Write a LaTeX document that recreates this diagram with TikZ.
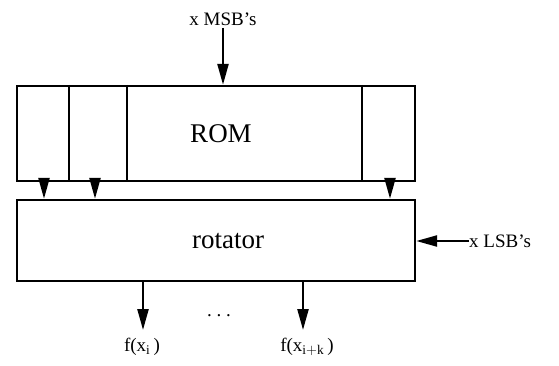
\documentclass[tikz,border=0pt]{standalone}
\usepackage{fontspec}
\setmainfont{Liberation Serif}
\usetikzlibrary{arrows.meta}

\begin{document}
\begin{tikzpicture}[x=1pt, y=1pt, >={Triangle[length=21pt, width=11pt]},
  box/.style={draw, line width=2.4pt, inner sep=0pt},
  conn/.style={->, line width=2.4pt},
  lbl/.style={font=\fontsize{19}{21}\selectfont, inner sep=0pt},
  big/.style={font=\fontsize{27}{30}\selectfont, inner sep=0pt}]
  \useasboundingbox (0,0) rectangle (559,365);

  % ROM block with its columns
  \node[box, minimum width=398pt, minimum height=95pt] (rom) at (216,231.5) {};
  \node[big] (romtext) at (221,231) {ROM};
  \foreach \xd in {69, 127, 362} {
    \draw[line width=2.4pt] (\xd,0 |- rom.north) -- (\xd,0 |- rom.south);
  }

  % rotator block
  \node[box, minimum width=398pt, minimum height=81pt] (rot) at (216,124.5) {};
  \node[big] (rottext) at (228,124) {rotator};

  % ROM outputs into rotator
  \foreach \xa [count=\i] in {44, 95, 390} {
    \coordinate (romout\i) at (\xa,0 |- rom.south);
    \draw[conn] (romout\i) -- (romout\i |- rot.north);
  }

  % inputs
  \node[lbl] (msb) at (223,346) {x MSB's};
  \coordinate (msbin) at (223,337);
  \draw[conn] (msbin) -- (msbin |- rom.north);

  \node[lbl, anchor=west] (lsb) at (469,124) {x LSB's};
  \draw[conn] (lsb.west) -- (lsb.west -| rot.east);

  % outputs
  \node[lbl] (fi) at (142,18) {f(x$_{\mathrm{i}}$\,)};
  \node[lbl] (fik) at (307,18) {f(x$_{\mathrm{i+k}}$\,)};
  \coordinate (outa) at (143,0 |- rot.south);
  \coordinate (outb) at (303,0 |- rot.south);
  \coordinate (enda) at (143,35);
  \coordinate (endb) at (303,35);
  \draw[conn] (outa) -- (enda);
  \draw[conn] (outb) -- (endb);
  \node[lbl] (dots) at (219,49) {.\ .\ .};

\end{tikzpicture}
\end{document}
